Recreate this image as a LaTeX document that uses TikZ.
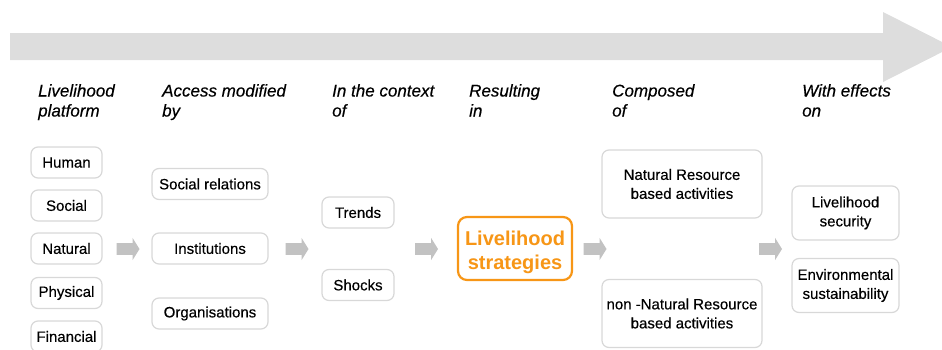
\documentclass[tikz,border=0pt]{standalone}
\usepackage{fontspec}
\setmainfont{Liberation Sans}
\newfontfamily\heavysans[FakeBold=0.35]{Liberation Sans}
\definecolor{bandgray}{RGB}{221,221,221}
\definecolor{flowgray}{RGB}{194,194,194}
\definecolor{boxgray}{RGB}{216,216,216}
\definecolor{stratorange}{RGB}{247,150,22}
\tikzset{
  box/.style={draw=boxgray, line width=1.2pt, rounded corners=7pt, fill=white,
    inner sep=0pt, align=center, font=\heavysans\fontsize{15}{19}\selectfont},
  keybox/.style={draw=stratorange, line width=2.2pt, rounded corners=9pt, fill=white,
    inner sep=0pt, align=center, text=stratorange,
    font=\fontsize{20}{24}\selectfont\bfseries},
  colhead/.style={anchor=north west, inner sep=0pt, align=left,
    font=\heavysans\fontsize{17}{20}\selectfont\itshape},
  blockarrow/.pic={
    \fill[flowgray] (-11.5,-5.8) -- (4.5,-5.8) -- (4.5,-11.2) -- (11.5,0)
      -- (4.5,11.2) -- (4.5,5.8) -- (-11.5,5.8) -- cycle;
  }
}
\begin{document}
\begin{tikzpicture}[x=1pt,y=-1pt]
\useasboundingbox (0,0) rectangle (942,349);
\clip (0,0) rectangle (942,349);

% long process band across the top
\fill[bandgray] (10,33) -- (883,33) -- (883,12) -- (952,47) -- (883,82)
  -- (883,60) -- (10,60) -- cycle;

% column headings
\node[colhead] (h1) at (38,84)  {Livelihood\\platform};
\node[colhead] (h2) at (162,84) {Access modified\\by};
\node[colhead] (h3) at (332,84) {In the context\\of};
\node[colhead] (h4) at (469,84) {Resulting\\in};
\node[colhead] (h5) at (612,84) {Composed\\of};
\node[colhead] (h6) at (802,84) {With effects\\on};

% livelihood platform (capitals)
\begin{scope}[every node/.append style={minimum width=71pt, minimum height=31pt}]
\node[box] (human)     at (66.5,162.5) {Human};
\node[box] (social)    at (66.5,205.5) {Social};
\node[box] (natural)   at (66.5,248.5) {Natural};
\node[box] (physical)  at (66.5,293)   {Physical};
\node[box] (financial) at (66.5,336.5) {Financial};
\end{scope}

% access modifiers
\begin{scope}[every node/.append style={minimum width=116pt, minimum height=31pt}]
\node[box] (relations) at (210,184)   {Social relations};
\node[box] (instit)    at (210,248.5) {Institutions};
\node[box] (orgs)      at (210,313.5) {Organisations};
\end{scope}

% vulnerability context
\begin{scope}[every node/.append style={minimum width=72pt, minimum height=31pt}]
\node[box] (trends) at (358,212.5) {Trends};
\node[box] (shocks) at (358,285)   {Shocks};
\end{scope}

% strategies (the tall strut nudges the two lines slightly downwards)
\node[keybox, minimum width=114pt, minimum height=63pt] (strat) at (515,248.5)
  {\rule{0pt}{22pt}Livelihood\\strategies};

% activity types
\begin{scope}[every node/.append style={minimum width=160pt, minimum height=68pt, rounded corners=10pt}]
\node[box] (nrbased)  at (682,184)   {Natural Resource\\based activities};
\node[box] (nonnr)    at (682,313.5) {non -Natural Resource\\based activities};
\end{scope}

% outcomes
\begin{scope}[every node/.append style={minimum width=107pt, minimum height=54pt, rounded corners=9pt}]
\node[box] (security) at (845.5,213)   {Livelihood\\security};
\node[box] (environ)  at (845.5,285.5) {Environmental\\sustainability};
\end{scope}

% flow arrows between the columns
\pic at (128,249)   {blockarrow};
\pic at (297,249)   {blockarrow};
\pic at (426.5,249) {blockarrow};
\pic at (595,249)   {blockarrow};
\pic at (770.5,249) {blockarrow};
\end{tikzpicture}
\end{document}
